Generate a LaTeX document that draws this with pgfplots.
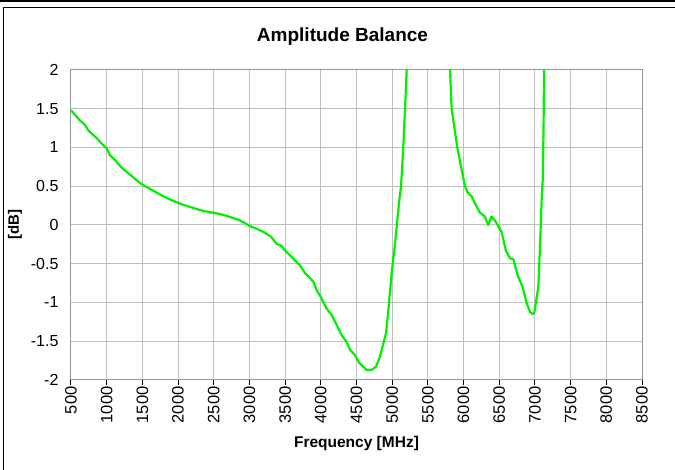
\documentclass[border=0pt]{standalone}
\usepackage{pgfplots}
\pgfplotsset{compat=1.18}
\usepackage{fontspec}
\setmainfont{Liberation Sans}
\definecolor{curvegreen}{RGB}{0,240,0}
\definecolor{gridgray}{RGB}{192,192,192}
\definecolor{axgray}{RGB}{150,150,150}
\begin{document}
\begin{tikzpicture}[x=1pt,y=1pt]
\useasboundingbox (-71,-90) rectangle (604,380);
\begin{axis}[
  at={(0,0)}, anchor=south west,
  scale only axis, width=571pt, height=310pt,
  xmin=500, xmax=8500, ymin=-2, ymax=2,
  xtick={500,1000,...,8500}, ytick={-2,-1.5,...,2},
  grid=major, major grid style={gridgray, line width=1pt},
  axis line style={axgray, line width=1pt},
  x axis line style={black},
  tick style={black, line width=1pt},
  xtick pos=bottom, ytick pos=left,
  xtick align=outside, major tick length=5pt,
  ytick style={draw=none},
  xticklabel style={rotate=90, anchor=east, font=\fontsize{16.5}{16.5}\selectfont, xshift=2pt},
  yticklabel style={font=\fontsize{16}{16}\selectfont, xshift=-9pt},
  /pgf/number format/assume math mode=true,
  scaled x ticks=false,
  xticklabel={\pgfmathprintnumber[1000 sep={},fixed]{\tick}},
  yticklabel={\pgfmathprintnumber[fixed]{\tick}},
  xlabel={\textbf{Frequency [MHz]}},
  xlabel style={font=\fontsize{15.5}{15.5}\selectfont, yshift=-6pt},
  ylabel={\textbf{[dB]}},
  ylabel style={font=\fontsize{15}{15}\selectfont, yshift=2pt},
  title={\textbf{Amplitude Balance}},
  title style={font=\fontsize{19}{19}\selectfont, yshift=15pt, xshift=-14pt},
  clip=true, axis on top=false,
]
\addplot[curvegreen, line width=2.2pt, line join=round] coordinates {
(500,1.48) (626,1.35) (696,1.29) (743,1.22) (860,1.12) (930,1.05) (1000,0.99)
(1046,0.90) (1116,0.84) (1210,0.74) (1327,0.65) (1467,0.54) (1560,0.49)
(1677,0.43) (1794,0.37) (1934,0.31) (2073,0.26) (2213,0.22) (2354,0.18)
(2494,0.16) (2634,0.13) (2774,0.09) (2868,0.06) (3000,-0.01) (3100,-0.05)
(3200,-0.09) (3300,-0.15) (3380,-0.24) (3450,-0.27) (3500,-0.33) (3600,-0.42)
(3708,-0.52) (3778,-0.62) (3895,-0.73) (3942,-0.84) (4012,-0.95) (4082,-1.08)
(4152,-1.16) (4222,-1.29) (4292,-1.42) (4362,-1.51) (4409,-1.61) (4479,-1.68)
(4540,-1.78) (4596,-1.83) (4642,-1.87) (4712,-1.87) (4772,-1.83) (4829,-1.70)
(4876,-1.53) (4913,-1.40) (4946,-1.10) (4993,-0.62) (5040,-0.24) (5077,0.11)
(5100,0.32) (5124,0.50) (5155,1.00) (5180,1.50) (5203,2.00) (5220,2.40)
};
\addplot[curvegreen, line width=2.2pt, line join=round] coordinates {
(5800,2.40) (5810,2.00) (5833,1.50) (5912,1.00) (6020,0.50) (6057,0.42)
(6113,0.37) (6160,0.28) (6228,0.16) (6298,0.11) (6345,0.00) (6392,0.11)
(6453,0.04) (6532,-0.09) (6593,-0.33) (6649,-0.43) (6696,-0.44) (6766,-0.67)
(6828,-0.80) (6884,-1.01) (6931,-1.12) (6968,-1.15) (6991,-1.13) (7047,-0.80)
(7071,-0.28) (7094,0.32) (7110,0.60) (7120,1.20) (7128,2.00) (7132,2.40)
};
\end{axis}
\draw[black, line width=1pt] (-67.5,-90) -- (-67.5,372) -- (604,372);
\draw[black, line width=2pt] (-71,379) -- (604,379);
\end{tikzpicture}
\end{document}
